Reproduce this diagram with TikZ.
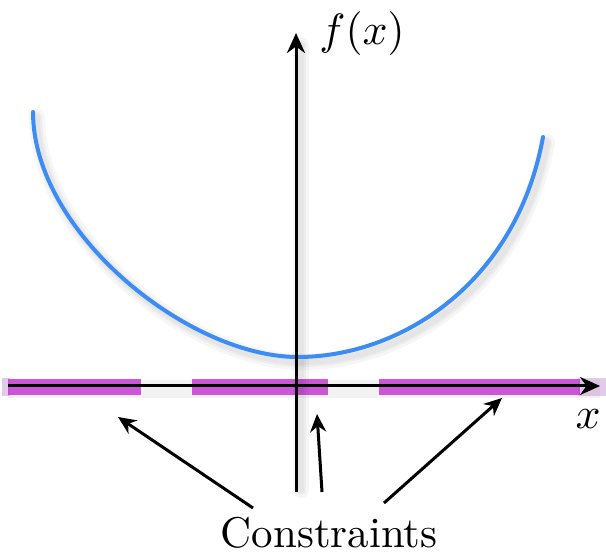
\documentclass[tikz,border=0pt]{standalone}
\usetikzlibrary{arrows.meta}
\definecolor{curveblue}{RGB}{60,140,245}
\definecolor{segpurple}{RGB}{198,58,212}
\definecolor{glowpurple}{RGB}{190,140,200}
\tikzset{
  axisline/.style={line width=0.75pt, black, -{Stealth[length=5pt,width=4.5pt]}},
  pointer/.style={line width=0.75pt, black, -{Stealth[length=4.5pt,width=4pt]}},
  shadowline/.style={line width=#1, black, opacity=0.035, line cap=round},
  segment/.style={fill=segpurple, opacity=0.85},
  lbl/.style={inner sep=0pt, font=\fontsize{10.75}{12}\selectfont}
}
\newcommand{\curvepath}{(33,112) .. controls (33,232) and (188,357) .. (298,357) .. controls (398,357) and (516,285.5) .. (543,137)}
\begin{document}
\begin{tikzpicture}[x=0.25pt, y=-0.25pt]
\useasboundingbox (0,0) rectangle (606,552);
% soft glow along x-axis
\fill[black, opacity=0.05] (8,380) rectangle (600,398);
\fill[glowpurple, opacity=0.45] (2,378) rectangle (10,396);
\fill[glowpurple, opacity=0.45] (578,378) rectangle (606,396);
% purple constraint segments
\fill[segment] (8,379) rectangle (141,395);
\fill[segment] (192,379) rectangle (328,395);
\fill[segment] (379,379) rectangle (580,395);
% shadows
\begin{scope}[shift={(4,5)}]
\foreach \w in {4pt,2.5pt,1.5pt}{
  \draw[shadowline=\w] \curvepath;
}
\end{scope}
\foreach \w in {4pt,2.5pt,1.5pt}{
  \draw[shadowline=\w] (301,490) -- (301,45);
}
% blue curve
\draw[curveblue, line width=1pt, line cap=round] \curvepath;
% named anchor points
\coordinate (xstart) at (8,386);
\coordinate (xend) at (600,386);
\coordinate (ystart) at (296,492);
\coordinate (yend) at (296,33);
\node[lbl, anchor=base] (fx) at (362,45) {$f(x)$};
\node[lbl, anchor=base] (xl) at (588,428) {$x$};
\node[lbl, anchor=base] (con) at (329,547) {Constraints};
% axes
\draw[axisline] (xstart) -- (xend);
\draw[axisline] (ystart) -- (yend);
% pointers
\coordinate (p1s) at (253,508);
\coordinate (p1e) at (118,417);
\coordinate (p2s) at (322,492);
\coordinate (p2e) at (317,414);
\coordinate (p3s) at (384,503);
\coordinate (p3e) at (502,398);
\draw[pointer] (p1s) -- (p1e);
\draw[pointer] (p2s) -- (p2e);
\draw[pointer] (p3s) -- (p3e);
\end{tikzpicture}
\end{document}
